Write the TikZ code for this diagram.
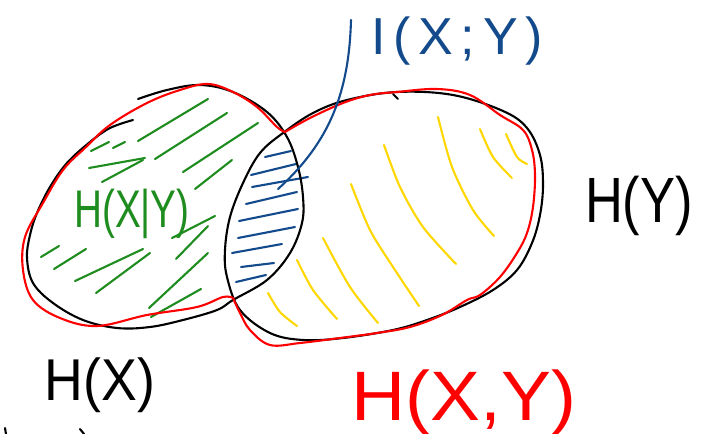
\documentclass[tikz,border=0pt]{standalone}
\usepackage{fontspec}
\setmainfont{Liberation Sans}
\usepackage{tikz}
\usetikzlibrary{calc}
\definecolor{hxGreen}{HTML}{1E8C1E}
\definecolor{ixyBlue}{HTML}{134A8C}
\definecolor{hyYellow}{HTML}{FFD700}
\definecolor{hxyRed}{HTML}{FF0000}

\begin{document}
\begin{tikzpicture}[
    x=1pt, y=-1pt,
    pen/.style={line width=2.1pt, line cap=round, line join=round},
    hatchG/.style={pen, draw=hxGreen},
    hatchB/.style={pen, draw=ixyBlue},
    hatchY/.style={pen, draw=hyYellow},
    lbl/.style={inner sep=0pt},
]
    \useasboundingbox (0,0) rectangle (716,434);

    % Hatching: H(X|Y)
    \foreach \xa/\ya/\xb/\yb in {138/141/208/99, 91/151/109/142, 113/148/125/142,
        155/159/227/113, 89/168/145/158, 102/182/143/160, 183/172/258/123,
        195/189/232/160, 41/257/59/246, 54/269/86/249, 75/281/143/249,
        96/293/150/253, 172/238/215/216, 176/259/208/226, 149/308/208/253,
        151/317/201/289}
        \draw[hatchG] (\xa,\ya) -- (\xb,\yb);

    % Hatching: I(X;Y)
    \foreach \xa/\ya/\xb/\yb in {265/157/291/151, 251/175/296/164, 252/187/308/177,
        246/204/297/192, 239/221/298/209, 238/238/295/227, 232/253/282/244,
        241/267/274/263, 236/282/266/275}
        \draw[hatchB] (\xa,\ya) -- (\xb,\yb);

    % Hatching: H(Y|X)
    \draw[hatchY] plot[smooth] coordinates {(438,117) (452,167) (473,210) (494,236)};
    \draw[hatchY] plot[smooth] coordinates {(480,129) (493,157) (512,178)};
    \draw[hatchY] plot[smooth] coordinates {(506,134) (517,157) (527,164)};
    \draw[hatchY] plot[smooth] coordinates {(384,145) (400,187) (423,227) (456,264)};
    \draw[hatchY] plot[smooth] coordinates {(351,184) (370,230) (393,267) (419,306)};
    \draw[hatchY] plot[smooth] coordinates {(323,238) (350,287) (378,323)};
    \draw[hatchY] plot[smooth] coordinates {(297,260) (313,290) (337,319)};
    \draw[hatchY] plot[smooth] coordinates {(268,293) (280,312) (297,326)};

    % Ellipses
    \draw[pen] plot[smooth, tension=.6] coordinates {(138,99) (167,90) (200,85)
        (233,92) (267,112) (287,137) (298,167) (303,197) (302,223) (290,253)
        (267,280) (233,300) (217,310) (183,320) (150,327) (117,328) (83,320)
        (53,303) (33,283) (27,258) (30,235) (37,213) (50,187) (67,163) (90,142)
        (110,128) (133,120)};
    \draw[pen] plot[smooth cycle, tension=.6] coordinates {(283,133) (313,113)
        (347,100) (397,92) (453,95) (503,111) (527,128) (540,155) (543,185)
        (540,215) (532,243) (517,270) (493,290) (460,307) (427,320) (393,330)
        (343,338) (303,340) (270,333) (240,310) (227,277) (225,250) (230,217)
        (243,183) (260,153)};
    \draw[pen] (393,94) -- (398,99);

    % Union
    \draw[pen, hxyRed] plot[smooth, tension=.6] coordinates {(233,298) (223,297)
        (197,307) (147,315) (97,326) (60,318) (33,300) (23,270) (25,237) (43,203)
        (63,170) (85,148) (110,125) (147,103) (180,90) (208,84) (233,92) (257,107)
        (277,127) (285,132)}
        -- plot[smooth, tension=.6] coordinates {(285,132) (310,118) (343,103)
        (370,95) (397,92) (437,89) (470,95) (500,115) (523,130) (532,150)
        (535,175) (533,207) (527,233) (517,253) (500,277) (480,295) (467,300)
        (442,315) (410,327) (377,333) (340,338) (300,343) (270,345) (250,330)
        (240,313) (233,298)};

    % Labels
    \node[lbl, text=hxGreen, font=\fontsize{53}{53}\selectfont] (hxgy) at (132,214)
        {\scalebox{0.73}[1]{H(X|Y)}};
    \node[lbl, font=\fontsize{64}{64}\selectfont] (hy) at (639,206)
        {\scalebox{0.82}[1]{H(Y)}};
    \node[lbl, font=\fontsize{59}{59}\selectfont] (hx) at (100,385)
        {\scalebox{0.91}[1]{H(X)}};
    \node[lbl, text=hxyRed, font=\fontsize{70}{70}\selectfont] (hxy) at (464,402)
        {\scalebox{1.07}[1]{H(X,Y)}};
    \node[lbl, text=ixyBlue, font=\fontsize{52}{52}\selectfont\addfontfeature{LetterSpace=15}] (ixy) at (457,41)
        {I(X;Y)};

    % Pointer to the overlap
    \coordinate (ixyTip) at (278,189);
    \coordinate (ixyTop) at (351,20);
    \draw[hatchB] (ixyTip) .. controls (330,142) and (349,92) .. (ixyTop);

    % Cut-off marks
    \draw[pen] (5,428) -- (6,434);
    \draw[pen] (80,429) -- (84,434);
\end{tikzpicture}
\end{document}
